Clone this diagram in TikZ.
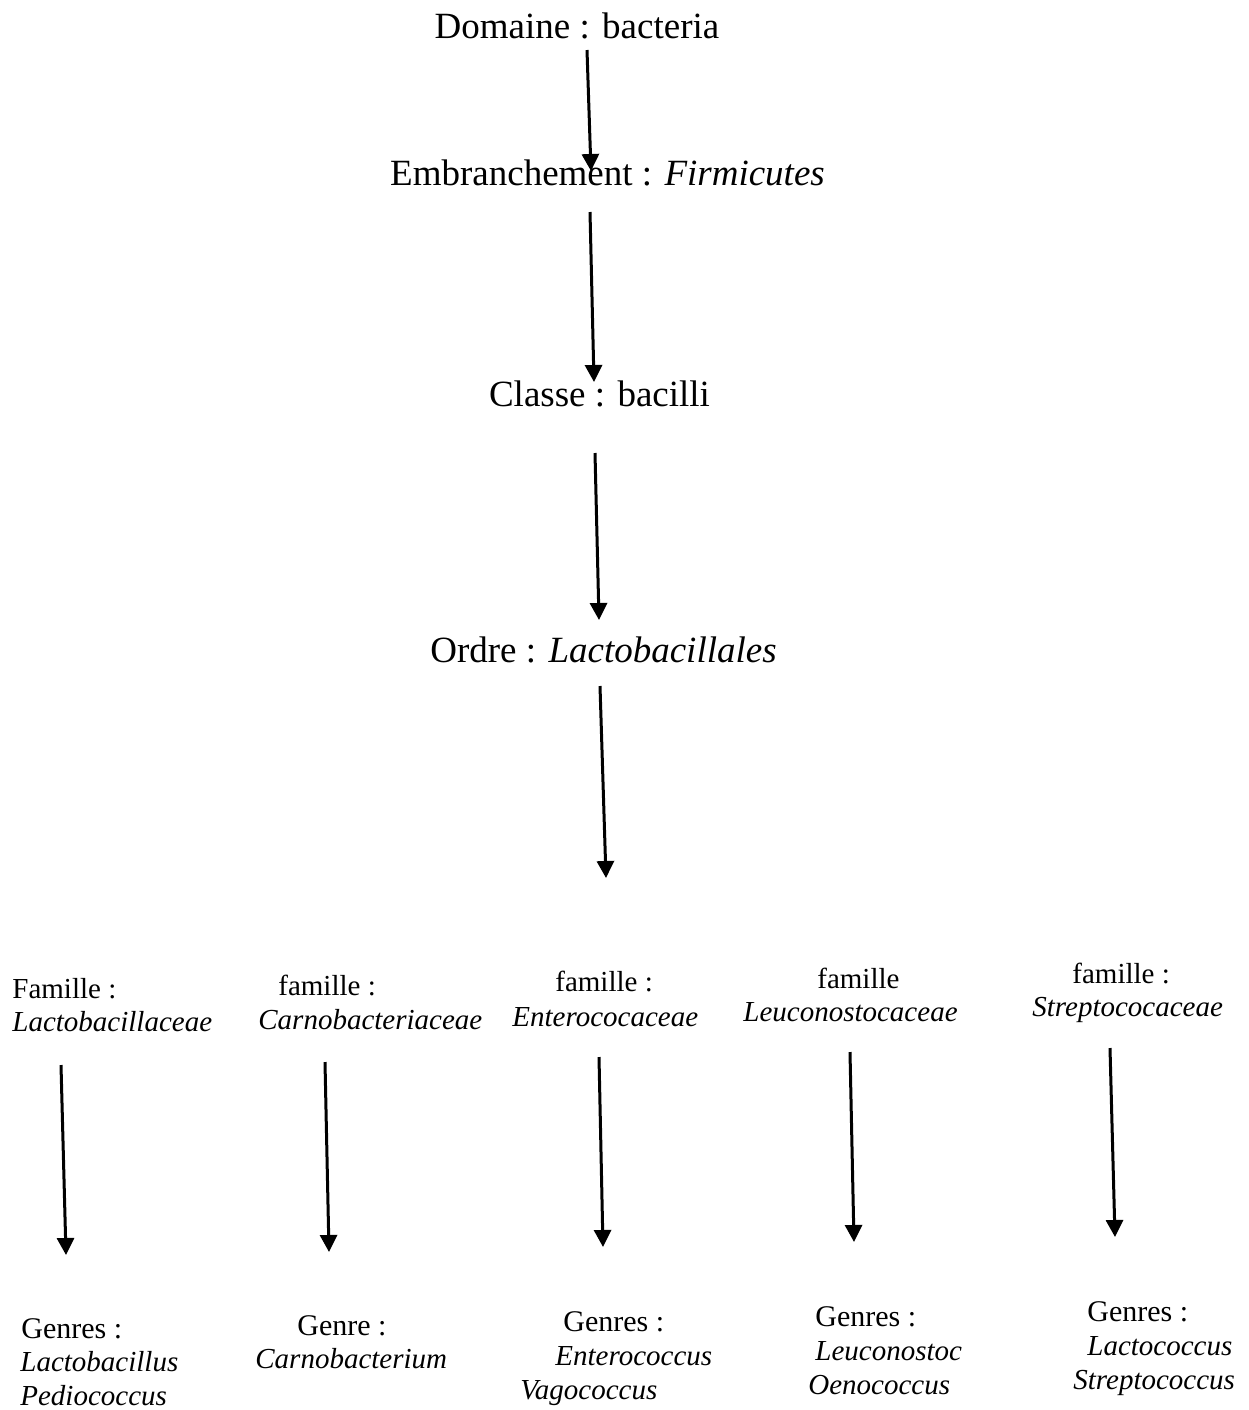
\documentclass[tikz,border=0pt]{standalone}
\usepackage{fontspec}
\setmainfont{Liberation Serif}
\usetikzlibrary{arrows.meta}
\begin{document}
\begin{tikzpicture}[x=0.5pt,y=-0.5pt]
\tikzset{
  rank/.style={font=\fontsize{18.5}{22}\selectfont, inner sep=0pt, anchor=base},
  famtxt/.style={font=\fontsize{14.5}{17}\selectfont, inner sep=0pt, anchor=base west},
  gentxt/.style={font=\fontsize{15}{18}\selectfont, inner sep=0pt, anchor=base west},
  arr/.style={line width=1.5pt, -{Triangle[width=8.5pt,length=8.5pt]}},
}
\useasboundingbox (0,0) rectangle (1249,1410);

% upper ranks
\node[rank] (dom) at (577,38)    {Domaine : bacteria};
\node[rank] (emb) at (607.5,185) {Embranchement : \textit{Firmicutes}};
\node[rank] (cla) at (599.5,406) {Classe : bacilli};
\node[rank] (ord) at (603.5,662) {Ordre : \textit{Lactobacillales}};
\coordinate (famrow) at (606,878);

\draw[arr] ([shift={(10,12)}]dom.base)    -- ([shift={(-16.5,-14)}]emb.base);
\draw[arr] ([shift={(-17.5,27)}]emb.base) -- ([shift={(-5.5,-24)}]cla.base);
\draw[arr] ([shift={(-4.5,47)}]cla.base)  -- ([shift={(-4.5,-42)}]ord.base);
\draw[arr] ([shift={(-3.5,24)}]ord.base)  -- (famrow);

% families
\node[famtxt] (f1h) at (12,998)   {Famille :};
\node[famtxt] (f1n) at (12,1031)  {\textit{Lactobacillaceae}};
\node[famtxt] (f2h) at (278,995)  {famille :};
\node[famtxt] (f2n) at (258,1029) {\textit{Carnobacteriaceae}};
\node[famtxt] (f3h) at (555,991)  {famille :};
\node[famtxt] (f3n) at (512,1026) {\textit{Enterococaceae}};
\node[famtxt] (f4h) at (817,988)  {famille};
\node[famtxt] (f4n) at (743,1021) {\textit{Leuconostocaceae}};
\node[famtxt] (f5h) at (1072,983) {famille :};
\node[famtxt] (f5n) at (1032,1016){\textit{Streptococaceae}};

% genera
\node[gentxt] (g1h) at (21,1338)  {Genres :};
\node[famtxt] (g1a) at (20,1371)  {\textit{Lactobacillus}};
\node[famtxt] (g1b) at (20,1405)  {\textit{Pediococcus}};
\node[gentxt] (g2h) at (297,1335) {Genre :};
\node[famtxt] (g2a) at (255,1368) {\textit{Carnobacterium}};
\node[gentxt] (g3h) at (563,1331) {Genres :};
\node[famtxt] (g3a) at (555,1365) {\textit{Enterococcus}};
\node[famtxt] (g3b) at (520,1399) {\textit{Vagococcus}};
\node[gentxt] (g4h) at (815,1326) {Genres :};
\node[famtxt] (g4a) at (815,1360) {\textit{Leuconostoc}};
\node[famtxt] (g4b) at (808,1394) {\textit{Oenococcus}};
\node[gentxt] (g5h) at (1087,1321){Genres :};
\node[famtxt] (g5a) at (1087,1355){\textit{Lactococcus}};
\node[famtxt] (g5b) at (1073,1389){\textit{Streptococcus}};

% family to genus arrows
\draw[arr] ([shift={(49,34)}]f1n.base west)  -- ([shift={(45,-83)}]g1h.base west);
\draw[arr] ([shift={(67,33)}]f2n.base west)  -- ([shift={(32,-83)}]g2h.base west);
\draw[arr] ([shift={(87,31)}]f3n.base west)  -- ([shift={(40,-84)}]g3h.base west);
\draw[arr] ([shift={(107,31)}]f4n.base west) -- ([shift={(39,-84)}]g4h.base west);
\draw[arr] ([shift={(78,32)}]f5n.base west)  -- ([shift={(28,-84)}]g5h.base west);
\end{tikzpicture}
\end{document}
